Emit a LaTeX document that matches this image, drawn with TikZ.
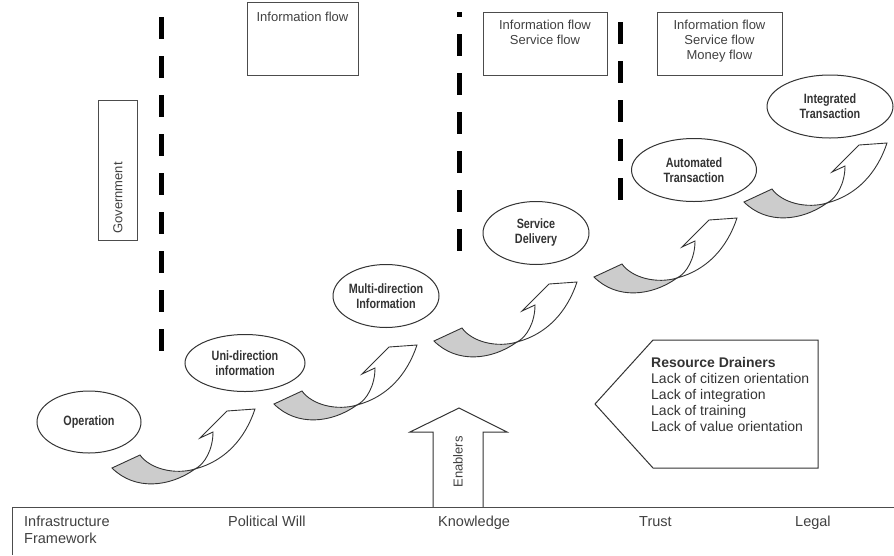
\documentclass[tikz,border=0pt]{standalone}
\usepackage{fontspec}
\setmainfont{Liberation Sans}
\newfontfamily\narrowfont[FakeStretch=0.8]{Liberation Sans}
\usetikzlibrary{shapes.geometric,positioning}

\begin{document}
\begin{tikzpicture}[x=1pt,y=-1pt,
  stage/.style={draw=black!80,line width=1pt,ellipse,inner sep=0pt,align=center,
    text=black!80,font={\narrowfont\bfseries\fontsize{13.5}{15}\selectfont}},
  flowbox/.style={draw=black!70,line width=0.9pt,rectangle,inner sep=0pt},
  flowtext/.style={align=center,inner sep=0pt,text=black!75,
    font={\fontsize{13}{15}\selectfont}},
  divider/.style={line width=5pt,dash pattern=on 22pt off 17pt},
  basetext/.style={anchor=base west,align=left,inner sep=0pt,text=black!75,
    font={\fontsize{14.5}{16.5}\selectfont}},
  twistarrow/.pic={
    \filldraw[draw=black!80,line width=0.9pt,fill=gray!40]
      (-55,-14) .. controls (-45,0) and (-20,6) .. (0,0)
      .. controls (-25,18) and (-60,22) .. (-83,-1) -- cycle;
    \filldraw[draw=black!80,line width=0.9pt,fill=white]
      (0,0) .. controls (30,-8) and (50,-30) .. (60,-60) -- (32,-58) -- (5,-31)
      -- (18,-37) .. controls (18,-20) and (10,-5) .. (0,0) -- cycle;
  }]
  \useasboundingbox (0,0) rectangle (894,555);

  %% dividers
  \draw[divider] (161,17) -- (161,351);
  \draw[divider,dash phase=17pt] (459,12) -- (459,251);
  \draw[divider] (620,22) -- (620,200);

  %% flow boxes
  \node[flowbox,minimum width=111pt,minimum height=73pt] (flowA) at (302.5,38.5) {};
  \node[flowtext,anchor=north,below=10pt of flowA.north] (flowAtext) {Information flow};
  \node[flowbox,minimum width=124pt,minimum height=63pt] (flowB) at (545,43.5) {};
  \node[flowtext,anchor=north,below=8pt of flowB.north] (flowBtext) {Information flow\\Service flow};
  \node[flowbox,minimum width=125pt,minimum height=63pt] (flowC) at (719.5,43.5) {};
  \node[flowtext,anchor=north,below=8pt of flowC.north] (flowCtext) {Information flow\\Service flow\\Money flow};

  %% Government
  \node[flowbox,minimum width=39pt,minimum height=140pt] (gov) at (117.5,170) {};
  \node[flowtext,rotate=90] (govtext) at (118,198) {Government};

  %% stages
  \node[stage,minimum width=104pt,minimum height=62pt] (op) at (89,422) {Operation};
  \node[stage,minimum width=120pt,minimum height=57pt] (uni) at (245,363) {Uni-direction\\information};
  \node[stage,minimum width=106pt,minimum height=63pt] (multi) at (386,296) {Multi-direction\\Information};
  \node[stage,minimum width=106pt,minimum height=63pt] (serv) at (536,233) {Service\\Delivery};
  \node[stage,minimum width=125pt,minimum height=63pt] (auto) at (694,170) {Automated\\Transaction};
  \node[stage,minimum width=126pt,minimum height=63pt] (integ) at (830,106.5) {Integrated\\Transaction};

  %% twisted arrows
  \pic at (195,469) {twistarrow};
  \pic at (357,405) {twistarrow};
  \pic at (517,342) {twistarrow};
  \pic at (677,278) {twistarrow};
  \pic at (827,203) {twistarrow};

  %% resource drainers
  \draw[draw=black!80,line width=1pt] (595,404) -- (653,340) -- (818,340)
    -- (818,468) -- (653,468) -- cycle;
  \node[anchor=north west,align=left,inner sep=0pt,text=black!80,
    font={\fontsize{14}{16}\selectfont}] (drain) at (651,357)
    {\textbf{Resource Drainers}\\Lack of citizen orientation\\Lack of integration\\
     Lack of training\\Lack of value orientation};

  %% enablers
  \draw[draw=black!80,line width=1pt] (433,507) -- (433,432) -- (410,432) -- (459,408)
    -- (507,432) -- (483,432) -- (483,507);
  \node[flowtext,rotate=90] (enab) at (458,462) {Enablers};

  %% foundation
  \draw[draw=black!70,line width=1pt] (894,507) -- (12,507) -- (12,555);
  \node[basetext] (infra) at (24,543) {Infrastructure\\Framework};
  \node[basetext] (polit) at (228,526.5) {Political Will};
  \node[basetext] (know) at (438,526.5) {Knowledge};
  \node[basetext] (trust) at (639,526.5) {Trust};
  \node[basetext] (legal) at (795,526.5) {Legal};

\end{tikzpicture}
\end{document}
